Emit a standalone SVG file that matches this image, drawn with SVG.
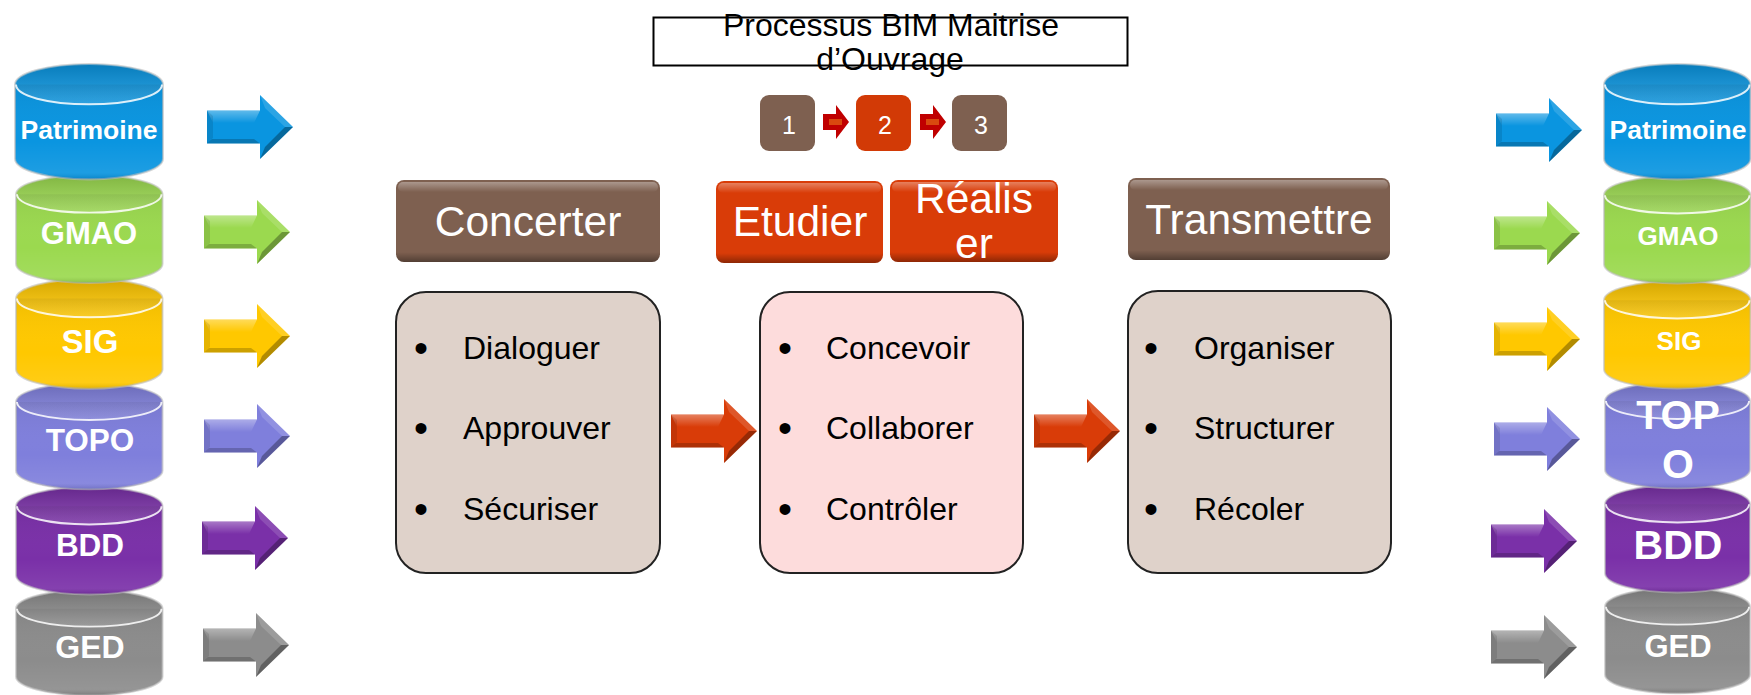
<svg xmlns="http://www.w3.org/2000/svg" xmlns:xlink="http://www.w3.org/1999/xlink" width="1751" height="695" viewBox="0 0 1751 695">
<style>
text{font-family:"Liberation Sans",Arial,sans-serif;text-anchor:middle}
.cl{font-weight:bold;fill:#fff}
.h{font-size:42.500px;fill:#fff}
.n{font-size:25px;fill:#fff}
.t{font-size:32px;fill:#000}
.b{font-size:40px;fill:#000}
.li{font-size:32px;fill:#000;text-anchor:start}
.box{stroke:#222;stroke-width:2}
</style>
<defs>
<linearGradient id="shade" x1="0" y1="0" x2="0" y2="1"><stop offset="0" stop-color="#000" stop-opacity=".16"/><stop offset="1" stop-color="#fff" stop-opacity=".14"/></linearGradient>
<linearGradient id="bodyg" x1="0" y1="0" x2="0" y2="1"><stop offset="0" stop-color="#000" stop-opacity=".06"/><stop offset=".6" stop-color="#fff" stop-opacity="0"/><stop offset=".93" stop-color="#fff" stop-opacity=".08"/><stop offset="1" stop-color="#000" stop-opacity=".12"/></linearGradient>
<linearGradient id="gloss" x1="0" y1="0" x2="0" y2="1"><stop offset="0" stop-color="#fff" stop-opacity=".35"/><stop offset="1" stop-color="#fff" stop-opacity="0"/></linearGradient>
<linearGradient id="edge" x1="0" y1="0" x2="0" y2="1"><stop offset="0" stop-color="#000" stop-opacity="0"/><stop offset=".88" stop-color="#000" stop-opacity="0"/><stop offset="1" stop-color="#000" stop-opacity=".35"/></linearGradient>
<g id="cyl">
<path d="M0 20V92C0 103 33 112 74 112S148 103 148 92V20C148 9 115 0 74 0S0 9 0 20Z" stroke="#bbb" stroke-opacity=".6" stroke-width="2"/>
<path d="M0 20V92C0 103 33 112 74 112S148 103 148 92V20Z" fill="url(#bodyg)"/>
<ellipse cx="74" cy="20" rx="73" ry="19" fill="url(#shade)"/>
<path d="M1 20C1 31 33 39 74 39S147 31 147 20" fill="none" stroke="#fff" stroke-opacity=".85" stroke-width="2"/>
</g>
<g id="arr">
<polygon points="0,-16.500 53,-16.500 53,-32 86,0 53,32 53,16.500 0,16.500"/>
<polygon points="0,-16.500 53,-16.500 47,-4 6,-4" fill="url(#gloss)"/>
<polygon points="53,-32 86,0 78,0 58,-19" fill="#fff" fill-opacity=".14"/>
<polygon points="0,-16.500 6,-11 6,11 0,16.500" fill="#000" fill-opacity=".1"/>
<polygon points="0,16.500 53,16.500 47,12 5,12" fill="#000" fill-opacity=".2"/>
<polygon points="53,32 86,0 78,0 58,20" fill="#000" fill-opacity=".3"/>
</g>
<polygon id="sm" points="0,-8 13,-8 13,-17 26,0 13,17 13,8 0,8" fill="#c00000"/>
</defs>

<g id="title"><rect x="653.500" y="17.500" width="474" height="48" fill="none" stroke="#000" stroke-width="2"/>
<text class="t" x="891" y="36">Processus BIM Maitrise</text><text class="t" x="890" y="70">d’Ouvrage</text></g>

<g id="step-1"><rect x="760" y="95" width="55" height="56" rx="9" fill="#7e6050"/><text class="n" x="789" y="134">1</text></g>
<g id="step-2"><rect x="856" y="95" width="55" height="56" rx="9" fill="#d23a06"/><text class="n" x="885" y="134">2</text></g>
<g id="step-3"><rect x="952" y="95" width="55" height="56" rx="9" fill="#7e6050"/><text class="n" x="981" y="134">3</text></g>

<g id="left-stack">
<g id="l-ged"><use href="#cyl" fill="#8c8c8c" transform="translate(16,590) scale(.99,.94)"/><text class="cl" font-size="32" x="90" y="658">GED</text></g>
<g id="l-bdd"><use href="#cyl" fill="#7a30a8" transform="translate(16,487) scale(.99,.96)"/><text class="cl" font-size="31.500" x="90" y="556">BDD</text></g>
<g id="l-topo"><use href="#cyl" fill="#7f7fdc" transform="translate(16,383) scale(.99,.95)"/><text class="cl" font-size="31.500" x="90" y="451">TOPO</text></g>
<g id="l-sig"><use href="#cyl" fill="#ffc800" transform="translate(16,279) scale(.99,.98)"/><text class="cl" font-size="33" x="90" y="353">SIG</text></g>
<g id="l-gmao"><use href="#cyl" fill="#9bd94f" transform="translate(16,175) scale(.99,.965)"/><text class="cl" font-size="31" x="89" y="244">GMAO</text></g>
<g id="l-patrimoine"><use href="#cyl" fill="#0a95e0" transform="translate(15,64) scale(1,1.03)"/><text class="cl" font-size="26.500" x="89" y="139">Patrimoine</text></g>
</g>

<g id="right-stack">
<g id="r-ged"><use href="#cyl" fill="#8c8c8c" transform="translate(1605,588) scale(.98,.94)"/><text class="cl" font-size="31" x="1678" y="657">GED</text></g>
<g id="r-bdd"><use href="#cyl" fill="#7a30a8" transform="translate(1605,485) scale(.98,.96)"/><text class="cl" font-size="41" x="1678" y="559">BDD</text></g>
<g id="r-topo"><use href="#cyl" fill="#7f7fdc" transform="translate(1605,382) scale(.98,.95)"/><text class="cl" font-size="41" x="1678" y="429">TOP</text><text class="cl" font-size="41" x="1678" y="478">O</text></g>
<g id="r-sig"><use href="#cyl" fill="#ffc800" transform="translate(1604,281) scale(.99,.96)"/><text class="cl" font-size="26" x="1679" y="350">SIG</text></g>
<g id="r-gmao"><use href="#cyl" fill="#9bd94f" transform="translate(1604,176) scale(.99,.96)"/><text class="cl" font-size="26" x="1678" y="245">GMAO</text></g>
<g id="r-patrimoine"><use href="#cyl" fill="#0a95e0" transform="translate(1604,64) scale(.99,1.03)"/><text class="cl" font-size="26.500" x="1678" y="139">Patrimoine</text></g>
</g>

<g id="concerter"><rect x="396" y="180" width="264" height="82" rx="8" fill="#7e6050"/><rect x="396" y="180" width="264" height="82" rx="8" fill="url(#edge)"/><rect x="398" y="182" width="260" height="10" rx="5" fill="url(#gloss)"/><text class="h" x="528" y="236">Concerter</text></g>
<g id="etudier"><rect x="716" y="181" width="167" height="82" rx="8" fill="#d93c08"/><rect x="716" y="181" width="167" height="82" rx="8" fill="url(#edge)"/><rect x="718" y="183" width="163" height="10" rx="5" fill="url(#gloss)"/><text class="h" x="800" y="236">Etudier</text></g>
<g id="realiser"><rect x="890" y="180" width="168" height="82" rx="8" fill="#d93c08"/><rect x="890" y="180" width="168" height="82" rx="8" fill="url(#edge)"/><rect x="892" y="182" width="164" height="10" rx="5" fill="url(#gloss)"/><text class="h" x="974" y="213">Réalis</text><text class="h" x="974" y="258">er</text></g>
<g id="transmettre"><rect x="1128" y="178" width="262" height="82" rx="8" fill="#7e6050"/><rect x="1128" y="178" width="262" height="82" rx="8" fill="url(#edge)"/><rect x="1130" y="180" width="258" height="10" rx="5" fill="url(#gloss)"/><text class="h" x="1259" y="234">Transmettre</text></g>

<g id="list-1"><rect class="box" x="396" y="292" width="264" height="281" rx="30" fill="#dfd2ca"/>
<text class="b" x="421" y="362">•</text><text class="li" x="463" y="359">Dialoguer</text>
<text class="b" x="421" y="442">•</text><text class="li" x="463" y="439">Approuver</text>
<text class="b" x="421" y="523">•</text><text class="li" x="463" y="520">Sécuriser</text></g>
<g id="list-2"><rect class="box" x="760" y="292" width="263" height="281" rx="30" fill="#fddcdc"/>
<text class="b" x="785" y="362">•</text><text class="li" x="826" y="359">Concevoir</text>
<text class="b" x="785" y="442">•</text><text class="li" x="826" y="439">Collaborer</text>
<text class="b" x="785" y="523">•</text><text class="li" x="826" y="520">Contrôler</text></g>
<g id="list-3"><rect class="box" x="1128" y="291" width="263" height="282" rx="30" fill="#dfd2ca"/>
<text class="b" x="1151" y="362">•</text><text class="li" x="1194" y="359">Organiser</text>
<text class="b" x="1151" y="442">•</text><text class="li" x="1194" y="439">Structurer</text>
<text class="b" x="1151" y="523">•</text><text class="li" x="1194" y="520">Récoler</text></g>

<g id="connectors">
<use href="#sm" transform="translate(823,122)"/><rect x="829" y="119" width="13" height="6" fill="#d9480f"/>
<use href="#sm" transform="translate(920,122)"/><rect x="926" y="119" width="13" height="6" fill="#d9480f"/>
<use href="#arr" fill="#d93c08" transform="translate(671,431)"/>
<use href="#arr" fill="#d93c08" transform="translate(1034,431)"/>
<use href="#arr" fill="#0a95e0" transform="translate(207,127)"/>
<use href="#arr" fill="#9bd94f" transform="translate(204,232)"/>
<use href="#arr" fill="#ffc800" transform="translate(204,336)"/>
<use href="#arr" fill="#7f7fdc" transform="translate(204,436)"/>
<use href="#arr" fill="#7a30a8" transform="translate(202,538)"/>
<use href="#arr" fill="#8c8c8c" transform="translate(203,645)"/>
<use href="#arr" fill="#0a95e0" transform="translate(1496,130)"/>
<use href="#arr" fill="#9bd94f" transform="translate(1494,233)"/>
<use href="#arr" fill="#ffc800" transform="translate(1494,339)"/>
<use href="#arr" fill="#7f7fdc" transform="translate(1494,439)"/>
<use href="#arr" fill="#7a30a8" transform="translate(1491,541)"/>
<use href="#arr" fill="#8c8c8c" transform="translate(1491,647)"/>
</g>
</svg>
